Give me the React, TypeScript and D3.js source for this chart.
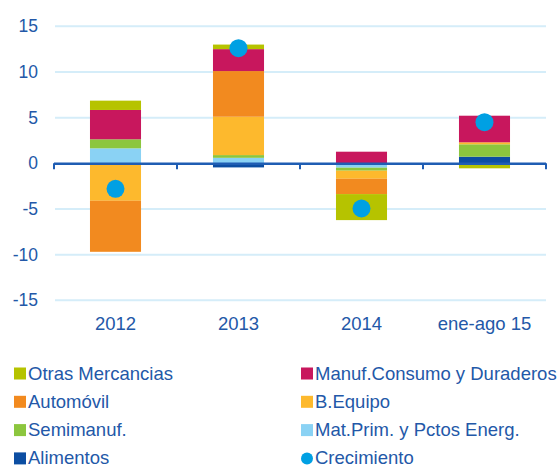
import React from "react";
import * as d3 from "d3";

const categories = ["2012", "2013", "2014", "ene-ago 15"];
const seriesNames = ["Alimentos", "Mat.Prim. y Pctos Energ.", "Semimanuf.", "B.Equipo", "Automóvil", "Manuf.Consumo y Duraderos", "Otras Mercancias"];
const alimentos = [0, -0.45, 0, 0.72];
const matPrim = [1.64, 0.6, -0.48, 0];
const semimanuf = [0.99, 0.3, -0.33, 1.36];
const bEquipo = [-4.1, 4.2, -0.88, 0.22];
const automovil = [-5.59, 5.0, -1.68, 0];
const manufConsumo = [3.21, 2.4, 1.27, 2.91];
const otras = [1.02, 0.5, -2.85, -0.55];
const crecimiento = [-2.8, 12.6, -4.95, 4.5];
const yTicks = [-15, -10, -5, 0, 5, 10, 15];

const colors: Record<string, string> = {
  "Alimentos": "#0c4ea2",
  "Mat.Prim. y Pctos Energ.": "#8ad2f4",
  "Semimanuf.": "#8cc63e",
  "B.Equipo": "#fdb92d",
  "Automóvil": "#f28a1f",
  "Manuf.Consumo y Duraderos": "#c8175d",
  "Otras Mercancias": "#b6c300",
};
const dotColor = "#00a0e3";
const textColor = "#2358a8";
const axisColor = "#1f5db3";
const gridColor = "#d5edf9";

const legendItems = [
  "Otras Mercancias", "Manuf.Consumo y Duraderos",
  "Automóvil", "B.Equipo",
  "Semimanuf.", "Mat.Prim. y Pctos Energ.",
  "Alimentos", "Crecimiento",
];

export default function App() {
  const W = 558, H = 467;
  const x = d3.scaleBand<string>().domain(categories).range([54, 546]).paddingInner(0.585).paddingOuter(0.2925);
  const y = d3.scaleLinear().domain([-15, 15]).range([300.3, 26.3]);
  const valuesBySeries = [alimentos, matPrim, semimanuf, bEquipo, automovil, manufConsumo, otras];
  const rows = categories.map((c, i) => {
    const r: any = { cat: c };
    seriesNames.forEach((s, j) => (r[s] = valuesBySeries[j][i]));
    return r;
  });
  const stack = d3.stack<any>().keys(seriesNames).offset(d3.stackOffsetDiverging);
  const layers = stack(rows);
  const font = "'Liberation Sans', Arial, sans-serif";
  const step = x.step();
  const boundaries = d3.range(categories.length + 1).map((i) => 54 + i * step);

  return (
    <svg width={W} height={H} style={{ position: "absolute", left: 0, top: 0 }} fontFamily={font}>
      <rect width={W} height={H} fill="#fff" />
      {yTicks.filter((t) => t !== 0).map((t) => (
        <line key={t} x1={55} x2={546} y1={y(t)} y2={y(t)} stroke={gridColor} strokeWidth={2} />
      ))}
      {yTicks.map((t) => (
        <text key={t} x={38} y={y(t)} dy="0.35em" textAnchor="end" fontSize={17.5} fill={textColor}>{t}</text>
      ))}
      {layers.map((layer) => (
        <g key={layer.key} fill={colors[layer.key]}>
          {layer.map((d, i) => {
            const y0 = y(d[1]), y1 = y(d[0]);
            const h = Math.abs(y1 - y0);
            if (h < 0.01) return null;
            return <rect key={i} x={x(categories[i])} y={Math.min(y0, y1)} width={x.bandwidth()} height={h} />;
          })}
        </g>
      ))}
      <line x1={54} x2={546} y1={y(0) + 0.5} y2={y(0) + 0.5} stroke={axisColor} strokeWidth={2.5} />
      {boundaries.map((b, i) => (
        <line key={i} x1={b} x2={b} y1={y(0)} y2={y(0) + 6} stroke={axisColor} strokeWidth={2} />
      ))}
      {crecimiento.map((v, i) => (
        <circle key={i} cx={(x(categories[i]) as number) + x.bandwidth() / 2} cy={y(v)} r={9} fill={dotColor} />
      ))}
      {categories.map((c) => (
        <text key={c} x={(x(c) as number) + x.bandwidth() / 2} y={330} textAnchor="middle" fontSize={18.5} fill={textColor}>{c}</text>
      ))}
      {legendItems.map((name, i) => {
        const col = i % 2, row = Math.floor(i / 2);
        const lx = col === 0 ? 14 : 301;
        const base = 379.5 + row * 28.3;
        return (
          <g key={name}>
            {name === "Crecimiento" ? (
              <circle cx={lx + 6} cy={base - 6} r={6} fill={dotColor} />
            ) : (
              <rect x={lx} y={base - 12} width={12} height={12} fill={colors[name]} />
            )}
            <text x={lx + 14} y={base} fontSize={18.5} fill={textColor}>{name}</text>
          </g>
        );
      })}
    </svg>
  );
}
